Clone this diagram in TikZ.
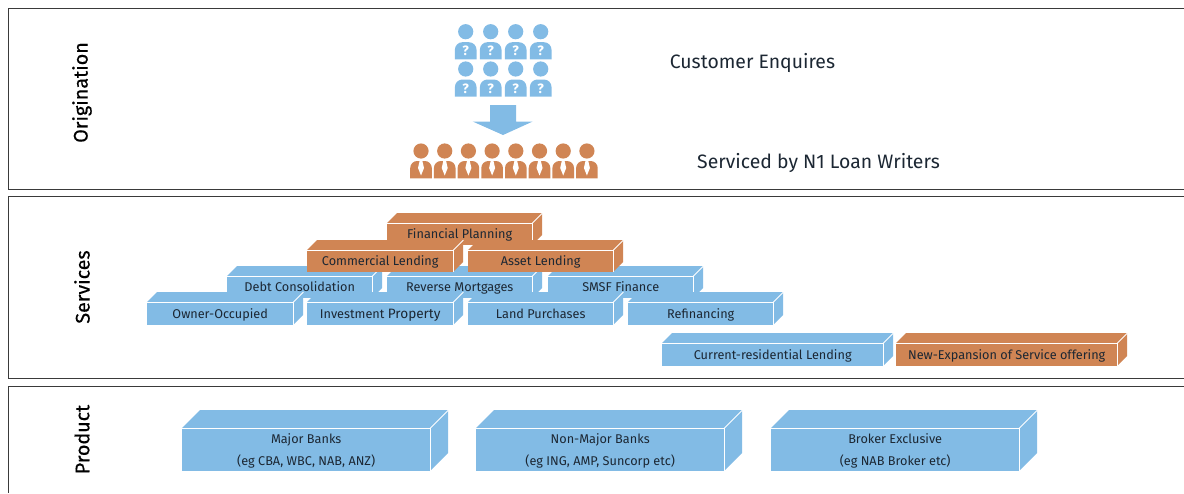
\documentclass[tikz,border=0pt]{standalone}
\usepackage{fontspec}
\setmainfont{Fira Sans}
\definecolor{skyfill}{HTML}{82BBE5}
\definecolor{rustfill}{HTML}{D08554}
\definecolor{inkcol}{HTML}{1C2733}
\definecolor{framecol}{HTML}{3A3A3A}
\pgfdeclarelayer{labels}
\pgfsetlayers{main,labels}
\tikzset{
	slabface/.style={inner sep=0pt, anchor=north west},
	slabtext/.style={inner sep=0pt, text=inkcol, align=center, font=\fontsize{12.7}{22}\selectfont},
	sidelabel/.style={rotate=90, text=black, font=\fontsize{19.7}{20}\selectfont\addfontfeature{FakeBold=0.5}},
	bigcaption/.style={text=inkcol, font=\fontsize{19.4}{20}\selectfont},
	framerule/.style={framecol, line width=1pt},
}
% name, left, top, width, height, depth, colour, text
\newcommand{\slab}[8]{
	\fill[#7] (#2,#3) -- ++(#6,-#6) -- ++(#4,0) -- ++(0,#5) -- ++(-#6,#6) -- cycle;
	\node[slabface, fill=#7, minimum width=#4pt, minimum height=#5pt] (#1) at (#2,#3) {};
	\draw[white, line width=0.9pt] (#1.north west) -- (#1.north east) -- (#1.south east);
	\draw[white, line width=0.9pt] (#1.north east) -- ++(#6,-#6);
	\begin{pgfonlayer}{labels}
		\node[slabtext] (#1-text) at (#1.center) {\strut #8};
	\end{pgfonlayer}
}
\begin{document}
\begin{tikzpicture}[x=1pt, y=-1pt]
	\useasboundingbox (0,0) rectangle (1184,493);
	\clip (0,0) rectangle (1184,493);

	% panels
	\draw[framerule] (1184,8) -- (8,8) -- (8,189) -- (1184,189);
	\draw[framerule] (1184,196) -- (8,196) -- (8,378) -- (1184,378);
	\draw[framerule] (1184,386) -- (8,386) -- (8,493);
	\node[sidelabel] (origination) at (82,92.5) {Origination};
	\node[sidelabel] (services) at (82,287) {Services};
	\node[sidelabel] (product) at (82,439.5) {Product};

	% enquiring customers
	\foreach \r/\yy in {1/31.7, 2/69} {
		\foreach \c/\xx in {1/465.7, 2/490.7, 3/515.7, 4/540.7} {
			\fill[skyfill] (\xx,\yy) circle (7.6);
			\fill[skyfill] (\xx-10.8,\yy+27.6) -- (\xx-10.8,\yy+18) arc (180:270:7.5) -- (\xx+3.3,\yy+10.5) arc (270:360:7.5) -- (\xx+10.8,\yy+27.6) -- cycle;
			\node[text=white, inner sep=0pt, font=\fontsize{13.5}{14}\selectfont\bfseries] (ask-\r-\c) at (\xx,\yy+19.4) {?};
		}
	}

	% arrow down
	\fill[skyfill] (490,105) -- (516,105) -- (516,121.5) -- (532.7,121.5) -- (503,135) -- (472.7,121.5) -- (490,121.5) -- cycle;

	% loan writers
	\foreach \c in {0,...,7} {
		\pgfmathsetmacro{\xx}{421+23.7*\c}
		\fill[rustfill] (\xx,151) circle (7.6);
		\fill[rustfill] (\xx-10.8,178.4) -- (\xx-10.8,168) arc (180:270:7) -- (\xx+3.8,161) arc (270:360:7) -- (\xx+10.8,178.4) -- cycle;
		\fill[white] (\xx-1.4,161) -- (\xx+1.4,161) -- (\xx+3,168) -- (\xx,175.5) -- (\xx-3,168) -- cycle;
	}

	\node[bigcaption] (enquires) at (752.5,62.5) {Customer Enquires};
	\node[bigcaption] (writers) at (818.5,162.5) {Serviced by N1 Loan Writers};

	% services
	\slab{planning}{387}{223}{145}{22}{10}{rustfill}{Financial Planning}
	\slab{debt}{227}{276}{145}{22}{10}{skyfill}{Debt Consolidation}
	\slab{reverse}{387}{276}{145}{22}{10}{skyfill}{Reverse Mortgages}
	\slab{smsf}{548}{276}{145}{22}{10}{skyfill}{SMSF Finance}
	\slab{commercial}{307}{250}{146}{22}{10}{rustfill}{Commercial Lending}
	\slab{asset}{468}{250}{145}{22}{10}{rustfill}{Asset Lending}
	\slab{owner}{147}{302}{146}{23}{10}{skyfill}{Owner-Occupied}
	\slab{investment}{307}{302}{146}{23}{10}{skyfill}{Investment {\fontsize{13.6}{22}\selectfont Property}}
	\slab{land}{468}{302}{145}{23}{10}{skyfill}{Land Purchases}
	\slab{refinancing}{628}{302}{145}{23}{10}{skyfill}{Refinancing}
	\slab{current}{662}{343}{221}{23}{10}{skyfill}{Current-residential Lending}
	\slab{expansion}{896}{343}{221}{23}{10}{rustfill}{New-Expansion of Service offering}

	% products
	\slab{major}{182}{428}{248}{43}{18}{skyfill}{Major Banks\\\strut(eg CBA, WBC, NAB, ANZ)}
	\slab{nonmajor}{476}{428}{248}{43}{18}{skyfill}{Non-Major Banks\\\strut(eg ING, AMP, Suncorp etc)}
	\slab{broker}{771}{428}{248}{43}{18}{skyfill}{Broker Exclusive\\\strut(eg NAB Broker etc)}
\end{tikzpicture}
\end{document}
